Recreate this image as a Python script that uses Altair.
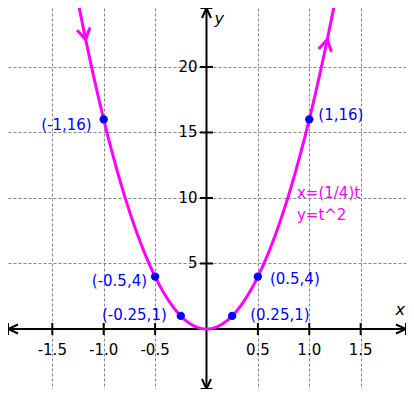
import altair as alt
import numpy as np
import pandas as pd

# ---- visible window (data units) ----
X_MIN, X_MAX = -1.931, 1.941
Y_MIN, Y_MAX = -4.58, 24.50
W, H = 398, 381

# ---- grid / ticks ----
grid_x = [-1.5, -1.0, -0.5, 0.0, 0.5, 1.0, 1.5]
grid_y = [0, 5, 10, 15, 20]
tick_x = [-1.5, -1.0, -0.5, 0.5, 1.0, 1.5]
tick_x_labels = ["-1.5", "-1.0", "-0.5", "0.5", "1.0", "1.5"]
tick_y = [5, 10, 15, 20]
tick_y_labels = ["5", "10", "15", "20"]

# ---- labelled points ----
pt_x = [-1.0, -0.5, -0.25, 0.25, 0.5, 1.0]
pt_y = [16, 4, 1, 1, 4, 16]
pt_labels = ["(-1,16)", "(-0.5,4)", "(-0.25,1)", "(0.25,1)", "(0.5,4)", "(1,16)"]

# ---- parametric curve x=(1/4)t, y=t^2 ----
t_values = np.linspace(-5, 5, 201)
arrow_t = [-4.7, 4.7]
eq_lines = ["x=(1/4)t", "y=t^2"]
eq_pos_x = [0.88, 0.88]
eq_pos_y = [10.4, 8.7]

# label styles (offsets in px), kept apart from the data
label_style = {
    "(-1,16)": ("right", -12, 6),
    "(-0.5,4)": ("right", -8, 4),
    "(-0.25,1)": ("right", -14, -1),
    "(0.25,1)": ("left", 18, -1),
    "(0.5,4)": ("left", 12, 2),
    "(1,16)": ("left", 9, -4),
}

FONT = "DejaVu Sans"
MAGENTA = "#ff00ff"
BLUE = "#0000ff"

xs = alt.Scale(domain=[X_MIN, X_MAX], nice=False, zero=False)
ys = alt.Scale(domain=[Y_MIN, Y_MAX], nice=False, zero=False)
ax_x = alt.Axis(values=grid_x, grid=True, gridDash=[3, 2], gridColor="#858585",
                gridWidth=1, labels=False, ticks=False, domain=False, title=None)
ax_y = alt.Axis(values=grid_y, grid=True, gridDash=[3, 2], gridColor="#858585",
                gridWidth=1, labels=False, ticks=False, domain=False, title=None)


def X():
    return alt.X("x:Q", scale=xs, axis=ax_x)


def Y():
    return alt.Y("y:Q", scale=ys, axis=ax_y)


layers = []

# axis lines
xaxis_df = pd.DataFrame({"x": [X_MIN], "x2": [X_MAX], "y": [0.0]})
yaxis_df = pd.DataFrame({"x": [0.0], "y": [Y_MIN], "y2": [Y_MAX]})
layers.append(alt.Chart(xaxis_df).mark_rule(color="black", strokeWidth=2).encode(
    x=X(), x2="x2:Q", y=Y()))
layers.append(alt.Chart(yaxis_df).mark_rule(color="black", strokeWidth=2).encode(
    x=X(), y=Y(), y2="y2:Q"))

# axis arrows
axis_arrow_df = pd.DataFrame({
    "x": [X_MIN, X_MAX, 0.0, 0.0],
    "y": [0.0, 0.0, Y_MAX, Y_MIN],
    "angle": [180, 0, 270, 90],
})
AXIS_ARROW = "M -1 -0.45 L 0 0 L -1 0.45 M 0 -0.6 L 0 0.6"
layers.append(alt.Chart(axis_arrow_df).mark_point(
    shape=AXIS_ARROW, filled=False, color="black", strokeWidth=2, size=400, opacity=1
).encode(x=X(), y=Y(), angle=alt.Angle("angle:Q", scale=None)))

# ticks
tx_df = pd.DataFrame({"x": tick_x, "y": [0.0] * len(tick_x), "lab": tick_x_labels})
ty_df = pd.DataFrame({"x": [0.0] * len(tick_y), "y": tick_y, "lab": tick_y_labels})
layers.append(alt.Chart(tx_df).mark_tick(orient="vertical", size=12, thickness=2,
                                         color="black", opacity=1).encode(x=X(), y=Y()))
layers.append(alt.Chart(ty_df).mark_tick(orient="horizontal", size=13, thickness=2,
                                         color="black", opacity=1).encode(x=X(), y=Y()))
layers.append(alt.Chart(tx_df).mark_text(font=FONT, fontSize=15, color="black",
                                         align="center", baseline="middle", dy=21).encode(
    x=X(), y=Y(), text="lab:N"))
layers.append(alt.Chart(ty_df).mark_text(font=FONT, fontSize=15, color="black",
                                         align="right", baseline="middle", dx=-9).encode(
    x=X(), y=Y(), text="lab:N"))

# axis names
layers.append(alt.Chart(pd.DataFrame({"x": [X_MAX], "y": [0.0], "lab": ["x"]})).mark_text(
    font=FONT, fontSize=16, fontStyle="italic", color="black", align="right",
    baseline="middle", dx=-1, dy=-19).encode(x=X(), y=Y(), text="lab:N"))
layers.append(alt.Chart(pd.DataFrame({"x": [0.0], "y": [Y_MAX], "lab": ["y"]})).mark_text(
    font=FONT, fontSize=16, fontStyle="italic", color="black", align="left",
    baseline="middle", dx=8, dy=11).encode(x=X(), y=Y(), text="lab:N"))

# curve
curve_df = pd.DataFrame({"t": t_values, "x": t_values / 4.0, "y": t_values ** 2})
layers.append(alt.Chart(curve_df).mark_line(color=MAGENTA, strokeWidth=3, clip=True).encode(
    x=X(), y=Y(), order="t:Q"))

# curve direction arrows
px_per_x = W / (X_MAX - X_MIN)
px_per_y = H / (Y_MAX - Y_MIN)
at = np.array(arrow_t)
ang = np.degrees(np.arctan2(-px_per_y * 2 * at, px_per_x * 0.25)) % 360
carrow_df = pd.DataFrame({"x": at / 4.0, "y": at ** 2, "angle": ang})
CURVE_ARROW = "M -1 -0.6 L 0 0 L -1 0.6"
layers.append(alt.Chart(carrow_df).mark_point(
    shape=CURVE_ARROW, filled=False, color=MAGENTA, strokeWidth=3, size=480, opacity=1
).encode(x=X(), y=Y(), angle=alt.Angle("angle:Q", scale=None)))

# points
pts_df = pd.DataFrame({"x": pt_x, "y": pt_y, "lab": pt_labels})
layers.append(alt.Chart(pts_df).mark_circle(color=BLUE, size=70, opacity=1).encode(
    x=X(), y=Y()))
for xv, yv, lab in zip(pt_x, pt_y, pt_labels):
    al, dx, dy = label_style[lab]
    layers.append(alt.Chart(pd.DataFrame({"x": [xv], "y": [yv], "lab": [lab]})).mark_text(
        font=FONT, fontSize=15, color=BLUE, align=al, baseline="middle", dx=dx, dy=dy
    ).encode(x=X(), y=Y(), text="lab:N"))

# equation annotation
eq_df = pd.DataFrame({"x": eq_pos_x, "y": eq_pos_y, "lab": eq_lines})
layers.append(alt.Chart(eq_df).mark_text(font=FONT, fontSize=15, color=MAGENTA,
                                         align="left", baseline="middle").encode(
    x=X(), y=Y(), text="lab:N"))

chart = alt.layer(*layers).properties(
    width=W, height=H, padding=0, autosize="none", background="white"
).configure_view(stroke=None)

chart.save("out.html", embed_options={"renderer": "svg", "actions": False})
